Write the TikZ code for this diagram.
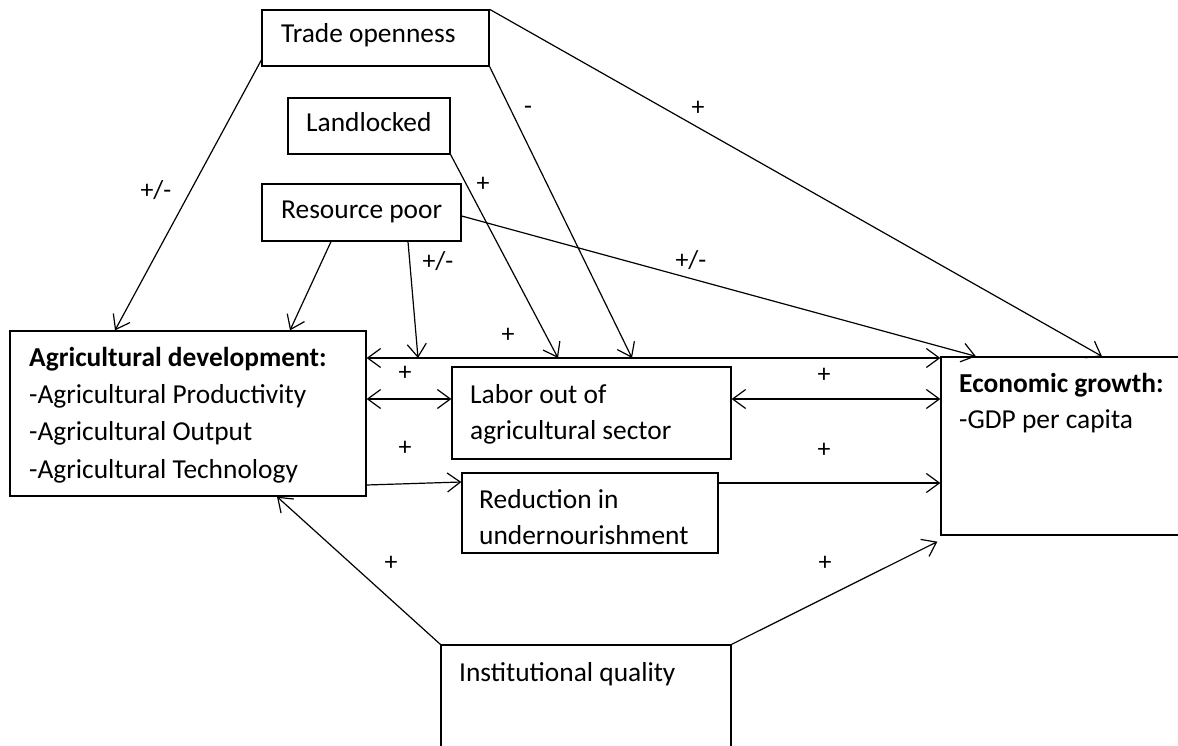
\documentclass[tikz,border=0pt]{standalone}
\usepackage{fontspec}
\setmainfont{Carlito}
\usetikzlibrary{arrows.meta,calc}
\begin{document}
\begin{tikzpicture}[x=1bp,y=-1bp,
  box/.style={draw, rectangle, line width=1.3bp, inner sep=0pt},
  txt/.style={anchor=base west, inner sep=0pt, font=\fontsize{27.5}{32}\selectfont},
  btxt/.style={txt, font=\fontsize{27.5}{32}\selectfont\bfseries},
  lbl/.style={inner sep=0pt, font=\fontsize{26}{30}\selectfont},
  tip/.tip={Straight Barb[length=13bp,width=19bp]},
  arr/.style={line width=1.2bp, -tip},
  darr/.style={line width=1.2bp, tip-tip}]
\useasboundingbox (0,0) rectangle (1178,746);
\clip (0,0) rectangle (1178,746);

% boxes
\node[box, minimum width=227bp, minimum height=56bp] (trade) at (375.5,38) {};
\node[box, minimum width=162bp, minimum height=56bp] (land) at (369,126) {};
\node[box, minimum width=199bp, minimum height=57bp] (res) at (361.5,212.5) {};
\node[box, minimum width=356bp, minimum height=165bp] (agr) at (188,413.5) {};
\node[box, minimum width=279bp, minimum height=92bp] (labor) at (591.5,413) {};
\node[box, minimum width=256bp, minimum height=80bp] (red) at (590,513) {};
\node[box, minimum width=259bp, minimum height=178bp] (econ) at (1070.5,446) {};
\node[box, minimum width=290bp, minimum height=125bp] (inst) at (586,707.5) {};

% texts
\node[txt] (tTrade) at (281,43) {Trade openness};
\node[txt] (tLand) at (306,131) {Landlocked};
\node[txt] (tRes) at (281,218) {Resource poor};
\node[btxt] (tAgr1) at (29,366) {Agricultural development:};
\node[txt] (tAgr2) at (29,403) {-Agricultural Productivity};
\node[txt] (tAgr3) at (29,440) {-Agricultural Output};
\node[txt] (tAgr4) at (29,478) {-Agricultural Technology};
\node[txt] (tLab1) at (470,403) {Labor out of};
\node[txt] (tLab2) at (470,439) {agricultural sector};
\node[txt] (tRed1) at (479,508) {Reduction in};
\node[txt] (tRed2) at (479,544) {undernourishment};
\node[btxt] (tEco1) at (959,392) {Economic growth:};
\node[txt] (tEco2) at (959,428) {-GDP per capita};
\node[txt] (tInst) at (459,681) {Institutional quality};

% free ends on the top line
\coordinate (onTrade) at (632,358);
\coordinate (onLand) at (558,358);
\coordinate (onRes) at (418,358);

% connectors
\draw[arr] (trade.west |- 0,60) -- (agr.north -| 115,0);
\draw[arr] (trade.south east) -- (onTrade);
\draw[arr] (trade.north east) -- (econ.north -| 1102,0);
\draw[arr] (land.south east) -- (onLand);
\draw[arr] (res.south -| 331,0) -- (agr.north -| 290,0);
\draw[arr] (res.south -| 408,0) -- (onRes);
\draw[arr] (res.east |- 0,216) -- (econ.north -| 976,0);
\draw[darr] (agr.east |- 0,358) -- (econ.west |- 0,358);
\draw[darr] (agr.east |- 0,399) -- (labor.west |- 0,399);
\draw[darr] (labor.east |- 0,399) -- (econ.west |- 0,399);
\draw[arr] (agr.east |- 0,485) -- (red.west |- 0,482);
\draw[arr] (red.east |- 0,483) -- (econ.west |- 0,483);
\draw[arr] (inst.north west) -- (agr.south -| 277,0);
\draw[arr] (inst.north east) -- ($(econ.south west)+(-3,6)$);

% labels
\node[lbl] (l1) at (156,190) {+/-};
\node[lbl] (l2) at (528,110) {-};
\node[lbl] (l3) at (698,108) {+};
\node[lbl] (l4) at (483,184) {+};
\node[lbl] (l5) at (438,261) {+/-};
\node[lbl] (l6) at (691,260) {+/-};
\node[lbl] (l7) at (508,335) {+};
\node[lbl] (l8) at (405,373) {+};
\node[lbl] (l9) at (824,375) {+};
\node[lbl] (l10) at (405,448) {+};
\node[lbl] (l11) at (824,450) {+};
\node[lbl] (l12) at (391,563) {+};
\node[lbl] (l13) at (825,563) {+};
\end{tikzpicture}
\end{document}
